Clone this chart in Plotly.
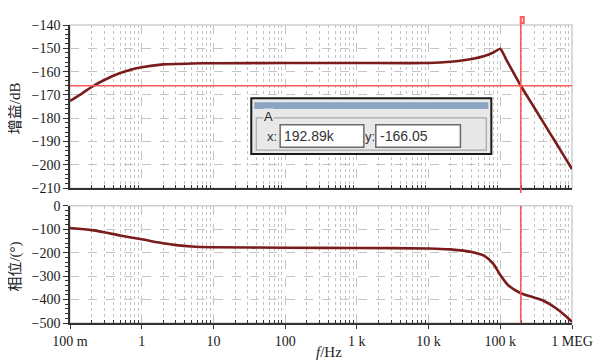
import plotly.graph_objects as go
from plotly.subplots import make_subplots

# ---------------- data ----------------
freq_gain = [0.1, 0.15, 0.2, 0.3, 0.5, 0.7, 1, 2, 5, 10, 100, 1e3, 1e4, 2e4, 4e4,
             6e4, 8e4, 1e5, 1.2e5, 1.5e5, 1.9289e5, 3e5, 5e5, 7e5, 1e6]
gain_db = [-172.6, -169.2, -166.6, -163.6, -160.6, -159.2, -158.1, -156.9, -156.5,
           -156.4, -156.3, -156.3, -156.3, -155.8, -154.6, -153.3, -151.8, -150.2,
           -154.6, -160.0, -166.05, -175.6, -186.7, -194.0, -201.8]

freq_phase = [0.1, 0.2, 0.3, 0.5, 1, 2, 3, 5, 10, 100, 1e3, 1e4, 2e4, 4e4, 6e4,
              8e4, 1e5, 1.3e5, 1.9289e5, 3e5, 4e5, 6e5, 8e5, 1e6]
phase_deg = [-95, -104, -113, -127, -143, -160, -168, -174, -177, -179, -180, -182,
             -186, -197, -214, -248, -295, -340, -373, -392, -405, -437, -468, -495]

x_tickvals = [0.1, 1, 10, 100, 1e3, 1e4, 1e5, 1e6]
x_ticktext = ["100 m", "1", "10", "100", "1 k", "10 k", "100 k", "1 MEG"]

cursor_x = 192.89e3
cursor_y = -166.05
cursor_x_text = "192.89k"
cursor_y_text = "-166.05"

# --------------- figure ---------------
OFF = 8  # page body margin
W, H = 603 - OFF, 363 - OFF
ML, MR, MT, MB = 70 - OFF, 29, 18 - OFF, 40
PW, PH = W - ML - MR, H - MT - MB
X_LEFT = OFF + ML
Y_BOT = OFF + H - MB


def px(xp):
    return (xp - X_LEFT) / PW


def py(yp):
    return (Y_BOT - yp) / PH


fig = make_subplots(rows=2, cols=1, shared_xaxes=False, vertical_spacing=0.0)

curve_color = "#7b1c1c"
fig.add_trace(go.Scatter(x=freq_gain, y=gain_db, mode="lines",
                         line=dict(color=curve_color, width=2.6, shape="spline", smoothing=0.5),
                         hoverinfo="skip", showlegend=False), row=1, col=1)
fig.add_trace(go.Scatter(x=freq_phase, y=phase_deg, mode="lines",
                         line=dict(color=curve_color, width=2.6, shape="spline", smoothing=0.6),
                         hoverinfo="skip", showlegend=False), row=2, col=1)

minor_vals = [d * m for d in [0.1, 1, 10, 100, 1e3, 1e4, 1e5] for m in range(2, 10)]
grid_c = "#c4c4c4"
tick_font = dict(family="Liberation Serif, Times New Roman, serif", size=14, color="#1a1a1a")

common_x = dict(type="log", range=[-1, 6], tickmode="array", tickvals=x_tickvals,
                showgrid=True, gridcolor=grid_c, griddash="dash", gridwidth=1,
                showline=True, linecolor="#333333", linewidth=1.5,
                zeroline=False, tickfont=tick_font,
                minor=dict(tickmode="array", tickvals=minor_vals, showgrid=True,
                           gridcolor=grid_c, griddash="dot", gridwidth=1,
                           ticks="inside", ticklen=3, tickcolor="#333333"))

fig.update_xaxes(**common_x, showticklabels=False, ticks="", row=1, col=1)
fig.update_xaxes(**common_x, ticktext=x_ticktext, showticklabels=True, ticks="outside",
                 ticklen=4, tickcolor="#333333", row=2, col=1)

fig.update_yaxes(range=[-210, -140], tickmode="linear", tick0=-210, dtick=10,
                 showgrid=True, gridcolor=grid_c, griddash="dash",
                 showline=True, linecolor="#333333", linewidth=1.5, zeroline=False,
                 ticks="outside", ticklen=5, tickcolor="#333333", tickfont=tick_font,
                 minor=dict(dtick=2, ticks="outside", ticklen=3, tickcolor="#333333", showgrid=False),
                 row=1, col=1)
fig.update_yaxes(range=[-500, 0], tickmode="linear", tick0=-500, dtick=100,
                 showgrid=True, gridcolor=grid_c, griddash="dash",
                 showline=True, linecolor="#333333", linewidth=1.5, zeroline=False,
                 ticks="outside", ticklen=5, tickcolor="#333333", tickfont=tick_font,
                 minor=dict(dtick=20, ticks="outside", ticklen=3, tickcolor="#333333", showgrid=False),
                 row=2, col=1)

fig.update_layout(
    width=W, height=H, margin=dict(l=ML, r=MR, t=MT, b=MB),
    paper_bgcolor="white", plot_bgcolor="white",
    xaxis=dict(domain=[0, 1]), xaxis2=dict(domain=[0, 1]),
    yaxis=dict(domain=[py(185), 1]), yaxis2=dict(domain=[0, py(203)]),
)

shapes = []
# light frames (top/right gray)
for xr, yr in [("x domain", "y domain"), ("x2 domain", "y2 domain")]:
    shapes.append(dict(type="rect", xref=xr, yref=yr, x0=0, x1=1, y0=0, y1=1,
                       line=dict(color="#cfcfcf", width=1.5), layer="below"))
# cursor lines
cur_red = "#ff5a5a"
shapes.append(dict(type="line", xref="x domain", yref="y", x0=0, x1=1, y0=cursor_y, y1=cursor_y,
                   line=dict(color=cur_red, width=1.6)))
shapes.append(dict(type="line", xref="x", yref="paper", x0=cursor_x, x1=cursor_x,
                   y0=py(190), y1=py(13), line=dict(color=cur_red, width=1.6)))
shapes.append(dict(type="line", xref="x2", yref="paper", x0=cursor_x, x1=cursor_x,
                   y0=0, y1=py(203), line=dict(color=cur_red, width=1.6)))
shapes.append(dict(type="rect", xref="x", yref="paper", xsizemode="pixel", ysizemode="pixel",
                   xanchor=cursor_x, yanchor=py(13), x0=-3, x1=3, y0=-3, y1=3,
                   fillcolor="white", line=dict(color=cur_red, width=2)))

# dialog box
shapes.append(dict(type="rect", xref="paper", yref="paper", x0=px(252), x1=px(493),
                   y0=py(150), y1=py(93), fillcolor="#e8e8e8", line=dict(color="#1a1a1a", width=2)))
shapes.append(dict(type="rect", xref="paper", yref="paper", x0=px(255), x1=px(490),
                   y0=py(104), y1=py(97), fillcolor="#8ca5c2", line=dict(width=0)))
shapes.append(dict(type="rect", xref="paper", yref="paper", x0=px(257), x1=px(488),
                   y0=py(146), y1=py(113), fillcolor="rgba(0,0,0,0)",
                   line=dict(color="#a8a8a8", width=1.2)))
for x0, x1 in [(281, 365), (377, 462)]:
    shapes.append(dict(type="rect", xref="paper", yref="paper", x0=px(x0), x1=px(x1),
                       y0=py(143), y1=py(120), fillcolor="white",
                       line=dict(color="#6a6a6a", width=1.5)))
fig.update_layout(shapes=shapes)

sans = "Liberation Sans, Arial, sans-serif"
ann = []
ann.append(dict(xref="paper", yref="paper", x=px(264), y=py(112), text="A", showarrow=False,
                font=dict(family=sans, size=13, color="#222"), bgcolor="#e8e8e8",
                xanchor="left", yanchor="middle", borderpad=0))
ann.append(dict(xref="paper", yref="paper", x=px(266), y=py(132), text="x:", showarrow=False,
                font=dict(family=sans, size=13, color="#333"), xanchor="left", yanchor="middle"))
ann.append(dict(xref="paper", yref="paper", x=px(364), y=py(132), text="y:", showarrow=False,
                font=dict(family=sans, size=13, color="#333"), xanchor="left", yanchor="middle"))
ann.append(dict(xref="paper", yref="paper", x=px(283), y=py(132), text=cursor_x_text, showarrow=False,
                font=dict(family=sans, size=14, color="#333"), xanchor="left", yanchor="middle"))
ann.append(dict(xref="paper", yref="paper", x=px(379), y=py(132), text=cursor_y_text, showarrow=False,
                font=dict(family=sans, size=14, color="#333"), xanchor="left", yanchor="middle"))

title_font = dict(family="Liberation Serif, Noto Sans CJK SC, serif", size=15, color="#222")
ann.append(dict(xref="paper", yref="paper", x=px(15), y=py(103), text="增益/dB", textangle=-90,
                showarrow=False, font=title_font, xanchor="center", yanchor="middle"))
ann.append(dict(xref="paper", yref="paper", x=px(15), y=py(265), text="相位/(°)", textangle=-90,
                showarrow=False, font=title_font, xanchor="center", yanchor="middle"))
ann.append(dict(xref="paper", yref="paper", x=px(330), y=py(353), text="<i>f</i>/Hz",
                showarrow=False, font=title_font, xanchor="center", yanchor="middle"))
fig.update_layout(annotations=ann)

fig.write_html("out.html")
